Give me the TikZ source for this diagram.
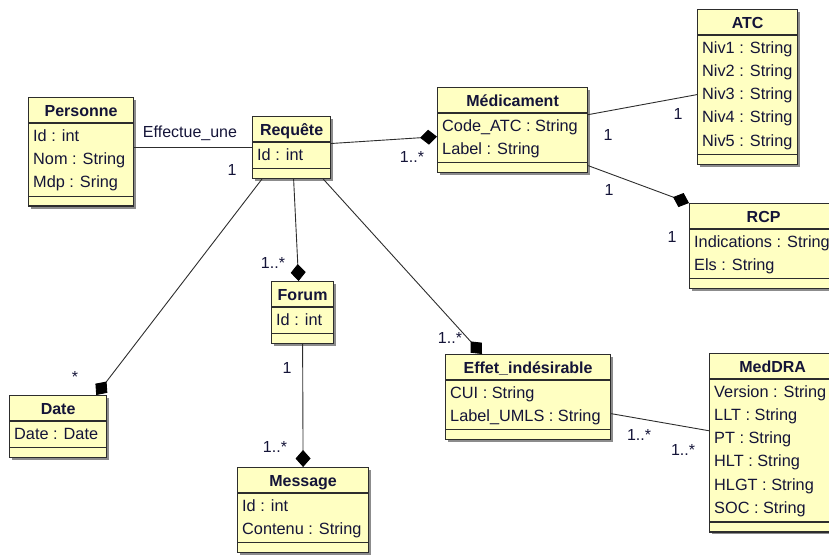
\documentclass[tikz,border=0pt]{standalone}
\usepackage{fontspec}
\setmainfont{Liberation Sans}
\usepackage{xcolor}
\usetikzlibrary{arrows.meta,shadows}

\definecolor{umlfill}{RGB}{255,255,194}
\definecolor{umlink}{RGB}{20,20,56}
\definecolor{umlline}{RGB}{45,45,45}

\tikzset{
  classbox/.style={draw=umlline, line width=1.2pt, fill=umlfill, inner sep=0pt, anchor=north west,
    drop shadow={shadow xshift=2.5pt, shadow yshift=-2.5pt, fill=black!45, opacity=1}},
  compline/.style={draw=umlline, line width=1.2pt},
  classname/.style={font=\fontsize{16}{19}\selectfont\bfseries, text=umlink, inner sep=0pt, anchor=base},
  attr/.style={font=\fontsize{16.3}{19}\selectfont, text=umlink, inner sep=0pt, anchor=base west},
  mult/.style={font=\fontsize{16}{19}\selectfont, text=umlink, inner sep=0pt},
  assoc/.style={draw=umlline, line width=0.9pt},
  comp/.style={assoc, -{Diamond[length=17pt,width=15pt,black]}},
}

% class box: name, left, top, width, number of fields, title, fields
\newcommand{\umlclass}[7]{%
  \pgfmathsetmacro{\clsh}{38.5+23.3*#5}
  \node[classbox, minimum width=#4, minimum height=\clsh] (#1) at (#2,-#3) {};
  \draw[compline] ([yshift=-26]#1.north west) -- ([yshift=-26]#1.north east);
  \draw[compline] ([yshift=10.5]#1.south west) -- ([yshift=10.5]#1.south east);
  \node[classname] (#1-name) at ([yshift=-19]#1.north) {#6};
  \foreach \field [count=\i] in {#7}
    \node[attr] (#1-f\i) at ([xshift=5, yshift={-44-23.3*(\i-1)}]#1.north west) {\field};
}

\begin{document}
\begin{tikzpicture}[x=1pt, y=1pt]
\useasboundingbox (0,0) rectangle (829,-554);
\clip (0,0) rectangle (829,-554);

% Classes
\umlclass{pers}{28}{97}{105}{3}{Personne}{Id : int, Nom : String, Mdp : Sring}
\umlclass{req}{252}{116}{78}{1}{Requête}{Id : int}
\umlclass{med}{437}{87}{150}{2}{Médicament}{Code\_ATC : String, Label : String}
\umlclass{atc}{697}{9}{100}{5}{ATC}{Niv1 : String, Niv2 : String, Niv3 : String, Niv4 : String, Niv5 : String}
\umlclass{rcp}{689}{203}{148}{2}{RCP}{Indications : String, Els : String}
\umlclass{forum}{271}{281}{62}{1}{Forum}{Id : int}
\umlclass{effet}{445}{354}{165}{2}{Effet\_indésirable}{CUI : String, Label\_UMLS : String}
\umlclass{meddra}{709}{353}{126}{6}{MedDRA}{Version : String, LLT : String, PT : String, HLT : String, HLGT : String, SOC : String}
\umlclass{date}{9}{395}{97}{1}{Date}{Date : Date}
\umlclass{msg}{237}{467}{131}{2}{Message}{Id : int, Contenu : String}

% Associations
\draw[assoc] (req.west -| pers.east) -- (req.west);
\draw[comp] ([yshift=4]req.east) -- ([yshift=-6.5]med.west);
\draw[assoc] ([yshift=15.5]med.east) -- ([yshift=-7.5]atc.west);
\draw[comp] ([yshift=-35.5]med.east) -- (rcp.north west);
\draw[comp] ([xshift=10]req.south west) -- ([xshift=-11]date.north east);
\draw[comp] ([xshift=2]req.south) -- ([xshift=-4]forum.north);
\draw[comp] ([xshift=-8]req.south east) -- ([xshift=37]effet.north west);
\draw[comp] (forum.south) -- (msg.north);
\draw[assoc] ([yshift=-16.5]effet.east) -- ([yshift=12]meddra.west);

% Labels
\node[mult] (lbl-eff) at (190,-133) {Effectue\_une};
\node[mult] (m-pers) at (232,-170) {1};
\node[mult] (m-med) at (412,-157) {1..*};
\node[mult] (m-atc1) at (608,-135) {1};
\node[mult] (m-atc2) at (678,-114) {1};
\node[mult] (m-rcp1) at (609,-190) {1};
\node[mult] (m-rcp2) at (672,-237) {1};
\node[mult] (m-date) at (75,-377) {*};
\node[mult] (m-forum) at (273,-263) {1..*};
\node[mult] (m-effet) at (450,-338) {1..*};
\node[mult] (m-msg1) at (287,-368) {1};
\node[mult] (m-msg2) at (275,-447) {1..*};
\node[mult] (m-dra1) at (639,-435) {1..*};
\node[mult] (m-dra2) at (683,-450) {1..*};
\end{tikzpicture}
\end{document}
